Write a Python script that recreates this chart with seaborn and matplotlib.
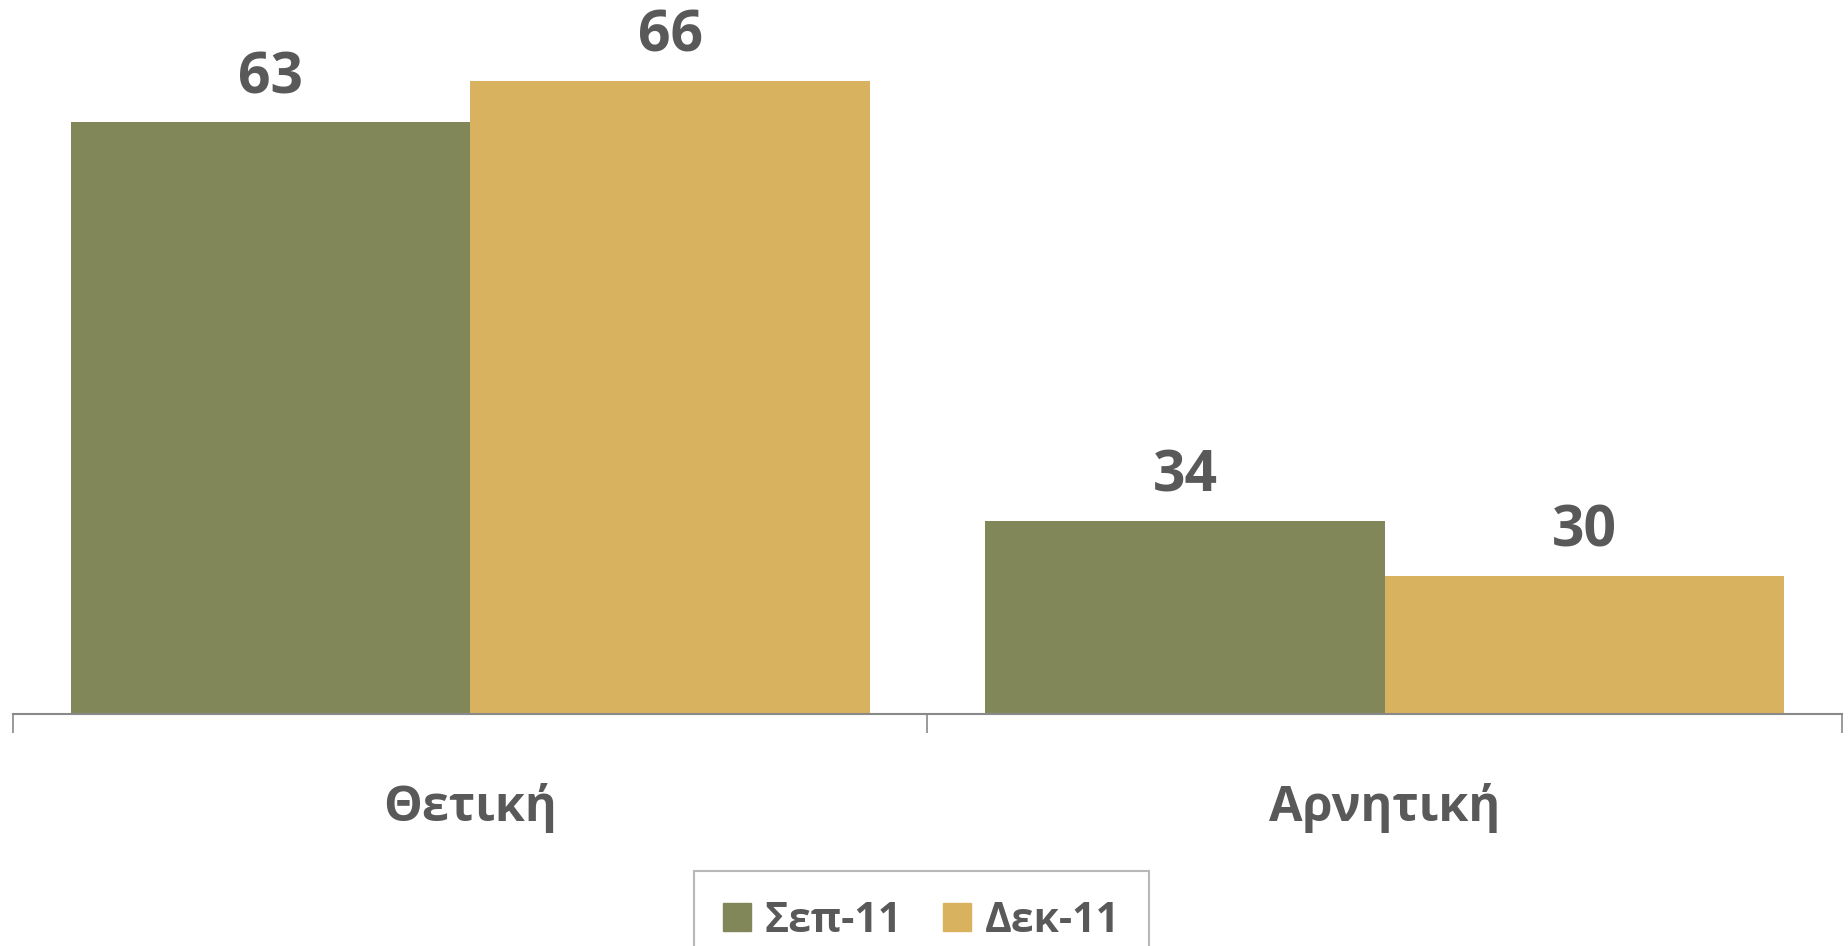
import pandas as pd
import matplotlib.pyplot as plt
import seaborn as sns

# values
categories = ["Θετική", "Αρνητική"]
periods = ["Σεπ-11", "Δεκ-11"]
sep_values = [63, 34]
dec_values = [66, 30]

colors = ["#82875A", "#D8B25E"]
text_color = "#595959"


def main():
    sns.set_style("white")
    plt.rcParams["font.family"] = ["Open Sans", "DejaVu Sans"]

    df = pd.DataFrame({
        "category": categories * 2,
        "period": [periods[0]] * 2 + [periods[1]] * 2,
        "value": sep_values + dec_values,
    })

    fig = plt.figure(figsize=(18.49, 9.46), dpi=100)
    ax = fig.add_axes([13 / 1849, 232.5 / 946, 1829 / 1849, 713.5 / 946])

    sns.barplot(data=df, x="category", y="value", hue="period",
                hue_order=periods, order=categories, palette=colors,
                saturation=1, width=0.874, gap=0, linewidth=0,
                legend=False, ax=ax)

    for cont in ax.containers:
        ax.bar_label(cont, padding=11, fontsize=41, fontweight="bold",
                     color=text_color)

    ax.set_ylim(20, 71.9)
    ax.set_xlim(-0.5, 1.5)
    ax.set_xlabel("")
    ax.set_ylabel("")
    ax.set_yticks([])

    for side in ["top", "left", "right"]:
        ax.spines[side].set_visible(False)
    ax.spines["bottom"].set_color("#898989")
    ax.spines["bottom"].set_linewidth(1.5)

    # category separators below the axis line
    ax.set_xticks([-0.5, 0.5, 1.5], minor=True)
    ax.tick_params(axis="x", which="minor", bottom=True, length=13.7,
                   width=1.2, color="#898989", direction="out")
    ax.tick_params(axis="x", which="major", length=0, pad=50,
                   labelsize=35, labelcolor=text_color)
    for lbl in ax.get_xticklabels():
        lbl.set_fontweight("bold")

    handles = [plt.Rectangle((0, 0), 1, 1, color=c) for c in colors]
    leg = fig.legend(handles, periods, loc="upper center",
                     bbox_to_anchor=(921.5 / 1849, 75 / 946), ncol=2,
                     fontsize=29.5, frameon=True, fancybox=False,
                     handlelength=0.68, handleheight=0.68, handletextpad=0.33,
                     columnspacing=1.0, borderpad=0.72, borderaxespad=0)
    leg.get_frame().set_edgecolor("#A6A6A6")
    leg.get_frame().set_linewidth(1.5)
    for t in leg.get_texts():
        t.set_color(text_color)
        t.set_fontweight("bold")

    fig.savefig("out.png", dpi=100)


if __name__ == "__main__":
    main()
